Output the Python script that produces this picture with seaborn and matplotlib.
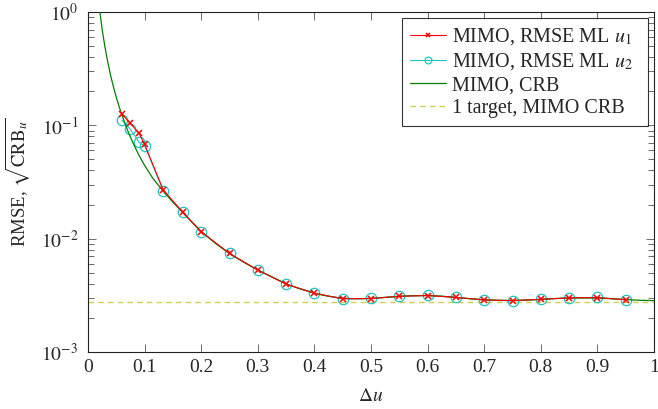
import numpy as np
import pandas as pd
import matplotlib
matplotlib.use("Agg")
import matplotlib.pyplot as plt
import seaborn as sns
from matplotlib.ticker import LogLocator, FixedLocator, NullFormatter

# ---- data ----
x_ml = [0.06, 0.075, 0.09, 0.1, 0.133, 0.167, 0.2, 0.25, 0.3, 0.35, 0.4, 0.45,
        0.5, 0.55, 0.6, 0.65, 0.7, 0.75, 0.8, 0.85, 0.9, 0.95]
rmse_u1 = [0.126, 0.104, 0.085, 0.068, 0.0269, 0.0172, 0.0115, 0.0074, 0.00528,
           0.00397, 0.0033, 0.00295, 0.00296, 0.00310, 0.00315, 0.00303, 0.00288,
           0.00284, 0.00292, 0.00300, 0.00302, 0.00289]
rmse_u2 = [0.111, 0.092, 0.071, 0.066, 0.0265, 0.0171, 0.0115, 0.0074, 0.00528,
           0.00397, 0.0033, 0.00294, 0.00297, 0.00311, 0.00316, 0.00304, 0.00287,
           0.00282, 0.00292, 0.00301, 0.00303, 0.00289]

x_crb = [0.020, 0.025, 0.030, 0.035, 0.040, 0.045, 0.050, 0.055, 0.060, 0.070,
         0.080, 0.090, 0.100, 0.115, 0.133, 0.150, 0.167, 0.183, 0.200, 0.225,
         0.250, 0.275, 0.300, 0.325, 0.350, 0.375, 0.400, 0.425, 0.450, 0.475,
         0.500, 0.525, 0.550, 0.575, 0.600, 0.625, 0.650, 0.675, 0.700, 0.725,
         0.750, 0.775, 0.800, 0.825, 0.850, 0.875, 0.900, 0.925, 0.950, 0.975, 1.000]
crb = [1.10, 0.70, 0.49, 0.36, 0.275, 0.218, 0.177, 0.146, 0.123, 0.090,
       0.069, 0.0545, 0.0443, 0.0338, 0.0262, 0.0210, 0.0171, 0.0141, 0.0116, 0.0091,
       0.0074, 0.0062, 0.0053, 0.0046, 0.0040, 0.0036, 0.0033, 0.0031, 0.00298, 0.00295,
       0.00297, 0.00303, 0.00310, 0.00314, 0.00315, 0.00311, 0.00303, 0.00295, 0.00289, 0.00286,
       0.00285, 0.00287, 0.00291, 0.00296, 0.00299, 0.00300, 0.00299, 0.00295, 0.00290, 0.00286, 0.00284]

x_single = [0.0, 1.0]
crb_single = [0.00278, 0.00278]

labels = ["MIMO, RMSE ML $u_1$", "MIMO, RMSE ML $u_2$", "MIMO, CRB", "1 target, MIMO CRB"]
xtick_vals = [0, 0.1, 0.2, 0.3, 0.4, 0.5, 0.6, 0.7, 0.8, 0.9, 1.0]
xtick_labels = ["0", "0.1", "0.2", "0.3", "0.4", "0.5", "0.6", "0.7", "0.8", "0.9", "1"]

# ---- style ----
sns.set_style("ticks")
plt.rcParams["font.family"] = ["Liberation Serif", "DejaVu Serif"]
plt.rcParams["mathtext.fontset"] = "stix"
plt.rcParams["font.size"] = 14

fig = plt.figure(figsize=(6.58, 4.09), dpi=100)
ax = fig.add_axes([88/658, 57/409, 566/658, 340/409])

df1 = pd.DataFrame({"x": x_ml, "y": rmse_u1})
df2 = pd.DataFrame({"x": x_ml, "y": rmse_u2})
df3 = pd.DataFrame({"x": x_crb, "y": crb})
df4 = pd.DataFrame({"x": x_single, "y": crb_single})

sns.lineplot(data=df1, x="x", y="y", ax=ax, color="#ff0000", lw=0.8, marker="x",
             markersize=5, markeredgewidth=1.1, markeredgecolor="#ff0000",
             estimator=None, sort=False, label=labels[0], zorder=3)
sns.lineplot(data=df2, x="x", y="y", ax=ax, color="#1fc4c4", lw=0.8, marker="o",
             markersize=7.5, markerfacecolor="none", markeredgewidth=0.9,
             markeredgecolor="#1fc4c4", estimator=None, sort=False,
             label=labels[1], zorder=2.5)
sns.lineplot(data=df3, x="x", y="y", ax=ax, color="#008000", lw=0.9,
             estimator=None, sort=False, label=labels[2], zorder=2.8)
sns.lineplot(data=df4, x="x", y="y", ax=ax, color="#cfcf4a", lw=1.0,
             linestyle=(0, (4, 3)), estimator=None, sort=False,
             label=labels[3], zorder=2)

ax.set_yscale("log")
ax.set_xlim(0, 1)
ax.set_ylim(1e-3, 1)
ax.xaxis.set_major_locator(FixedLocator(xtick_vals))
ax.set_xticklabels(xtick_labels)
ax.yaxis.set_major_locator(FixedLocator([1e-3, 1e-2, 1e-1, 1e0]))
ax.set_yticklabels(["$10^{-3}$", "$10^{-2}$", "$10^{-1}$", "$10^{0}$"])
ax.yaxis.set_minor_locator(LogLocator(base=10, subs=np.arange(2, 10)))
ax.yaxis.set_minor_formatter(NullFormatter())

ax.tick_params(which="both", direction="in", top=True, right=True,
               labelsize=14, width=0.6, color="#555555")
ax.tick_params(axis="x", which="major", length=5.8, pad=5)
ax.tick_params(axis="y", which="major", length=5.8, pad=7)
ax.tick_params(which="minor", length=4)
for s in ax.spines.values():
    s.set_linewidth(0.8)
    s.set_color("#222222")

ax.set_xlabel("$\\Delta u$", fontsize=14, labelpad=9)
ax.set_ylabel("RMSE, $\\sqrt{\\mathrm{CRB}_u}$", fontsize=13.5, labelpad=6)

leg = ax.legend(loc="upper left", bbox_to_anchor=(0.5548, 0.0, 0.4346, 0.982),
                mode="expand", borderaxespad=0.0,
                fontsize=14.5, frameon=True, fancybox=False, markerscale=0.65,
                edgecolor="black", handlelength=1.8, handletextpad=0.3,
                borderpad=0.4, labelspacing=0.2)
leg.get_frame().set_linewidth(0.8)

fig.savefig("out.png", dpi=100)
